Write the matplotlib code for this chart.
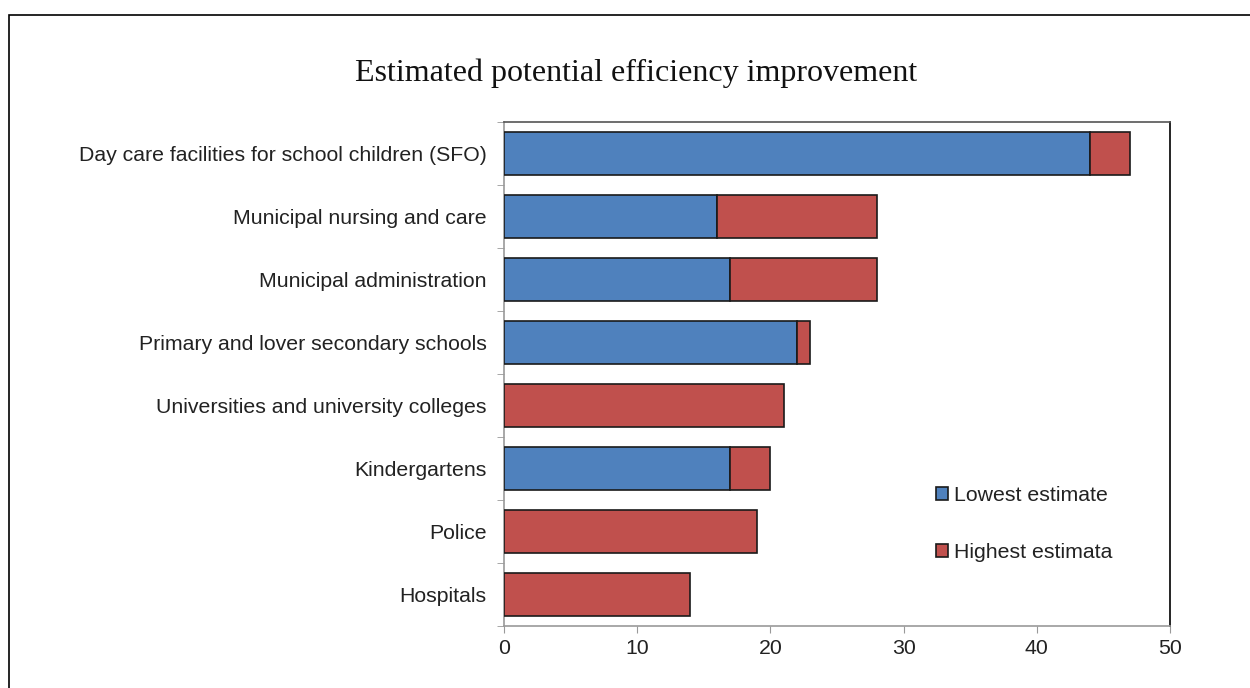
import matplotlib
matplotlib.use("Agg")
import matplotlib.pyplot as plt
from matplotlib.patches import Rectangle
import numpy as np

categories = [
    "Day care facilities for school children (SFO)",
    "Municipal nursing and care",
    "Municipal administration",
    "Primary and lover secondary schools",
    "Universities and university colleges",
    "Kindergartens",
    "Police",
    "Hospitals",
]
lowest = [44, 16, 17, 22, 0, 17, 0, 0]
highest = [47, 28, 28, 23, 21, 20, 19, 14]
xticks = [0, 10, 20, 30, 40, 50]
title = "Estimated potential efficiency improvement"

BLUE = "#4F81BD"
RED = "#C0504D"

plt.rcParams["font.family"] = ["Liberation Sans", "DejaVu Sans"]

fig = plt.figure(figsize=(12.5, 6.88), dpi=100)
ax = fig.add_axes([504 / 1250, 1 - 626 / 688, (1170 - 504) / 1250, (626 - 122) / 688])

n = len(categories)
y = np.arange(n)[::-1]
low = np.array(lowest, dtype=float)
high = np.array(highest, dtype=float)
extra = high - low

ax.barh(y, low, height=0.667, color=BLUE, edgecolor="#1a1a1a", linewidth=1.2,
        label="Lowest estimate", zorder=3)
ax.barh(y, extra, left=low, height=0.667, color=RED, edgecolor="#1a1a1a",
        linewidth=1.2, label="Highest estimata", zorder=3)

ax.set_xlim(0, 50)
ax.set_ylim(-0.5, n - 0.5)
ax.set_xticks(xticks)
ax.set_xticklabels([str(v) for v in xticks], fontsize=15.3, color="#222222")
ax.set_yticks(y)
ax.set_yticklabels(categories, fontsize=15.3, color="#222222")
ax.set_yticks(np.arange(-0.5, n, 1.0), minor=True)
ax.tick_params(axis="y", which="major", length=0, pad=12.5)
ax.tick_params(axis="y", which="minor", length=5, color="#999999", direction="out")
ax.tick_params(axis="x", which="major", length=5, color="#999999", direction="out", pad=4)

ax.spines["left"].set_color("#999999")
ax.spines["bottom"].set_color("#999999")
ax.spines["top"].set_color("#555555")
ax.spines["right"].set_color("#000000")
for s in ax.spines.values():
    s.set_linewidth(1.2)

leg = fig.legend(loc="upper left", bbox_to_anchor=(917 / 1250, 1 - 467 / 688),
                 frameon=False, fontsize=15.3, handlelength=0.55, handleheight=0.55,
                 handletextpad=0.3, labelspacing=1.8)
for t in leg.get_texts():
    t.set_color("#222222")

fig.text(636 / 1250, 1 - 73 / 688, title, ha="center", va="center",
         fontsize=23, family=["Liberation Serif", "DejaVu Serif"], color="#111111")

frame = Rectangle((9 / 1250, -0.1), 1.2, 1 - 15 / 688 + 0.1, transform=fig.transFigure,
                  fill=False, edgecolor="#000000", linewidth=1.2, zorder=0)
fig.patches.append(frame)

fig.savefig("out.png", dpi=100)
